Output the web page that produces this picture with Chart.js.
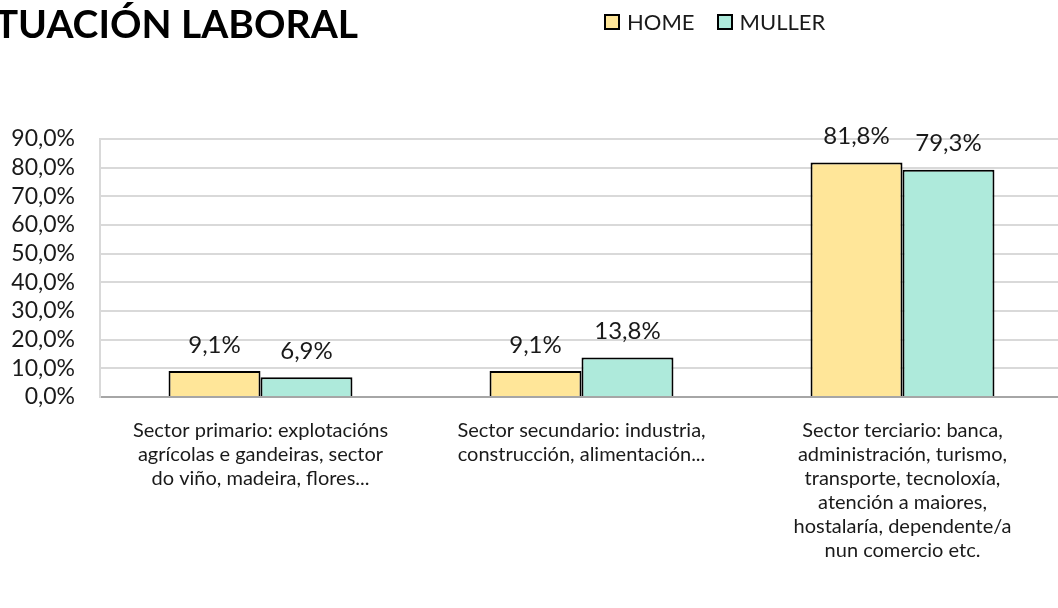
<!DOCTYPE html>
<html>
<head>
<meta charset="utf-8">
<script src="https://cdn.jsdelivr.net/npm/chart.js@4.4.1/dist/chart.umd.min.js"></script>
<style>
  html, body { margin: 0; padding: 0; background: #fff; overflow: hidden; }
  #wrap { position: relative; width: 1058px; height: 608px; overflow: hidden; }
  #title {
    position: absolute; right: 700px; top: 0px; white-space: nowrap;
    font: bold 39px Lato, sans-serif; color: #000;
  }
  #legend {
    position: absolute; left: 604px; top: 8px; display: flex; gap: 22px;
    font: 22px Lato, sans-serif; color: #1a1a1a;
  }
  #legend span { display: flex; align-items: center; }
  #legend i { display: inline-block; width: 12px; height: 12px; border: 2px solid #000; margin-right: 7px; }
  #box { position: absolute; left: 0; top: 0; width: 1100px; height: 608px; }
</style>
</head>
<body>
<div id="wrap">
  <div id="box"><canvas id="chartCanvas"></canvas></div>
  <div id="title">SITUACIÓN LABORAL</div>
  <div id="legend">
    <span><i style="background:#FFE699"></i>HOME</span>
    <span><i style="background:#AEEADB"></i>MULLER</span>
  </div>
</div>
<script>
// data
var categories = [
  ["Sector primario: explotacións", "agrícolas e gandeiras, sector", "do viño, madeira, flores..."],
  ["Sector secundario: industria,", "construcción, alimentación..."],
  ["Sector terciario: banca,", "administración, turismo,", "transporte, tecnoloxía,", "atención a maiores,", "hostalaría, dependente/a", "nun comercio etc."]
]
var home = [9.1, 9.1, 81.8]
var muller = [6.9, 13.8, 79.3]
var seriesNames = ["HOME", "MULLER"]
var yTicks = [0, 10, 20, 30, 40, 50, 60, 70, 80, 90]

var fmt = v => v.toFixed(1).replace('.', ',') + '%'

// writes the value above every bar
var valueLabels = {
  id: 'valueLabels',
  afterDatasetsDraw(chart) {
    var ctx = chart.ctx
    ctx.save()
    ctx.font = '24px Lato, sans-serif'
    ctx.fillStyle = '#1a1a1a'
    ctx.textAlign = 'center'
    ctx.textBaseline = 'middle'
    chart.data.datasets.forEach((ds, i) => {
      chart.getDatasetMeta(i).data.forEach((bar, j) => {
        ctx.fillText(fmt(ds.data[j]), bar.x, bar.y - 26)
      })
    })
    ctx.restore()
  }
}

var myChart = new Chart(document.getElementById('chartCanvas'), {
  type: 'bar',
  data: {
    labels: categories,
    datasets: [
      { label: seriesNames[0], data: home, backgroundColor: '#FFE699', borderColor: '#000', borderWidth: 2 },
      { label: seriesNames[1], data: muller, backgroundColor: '#AEEADB', borderColor: '#000', borderWidth: 2 }
    ]
  },
  options: {
    responsive: true,
    maintainAspectRatio: false,
    animation: false,
    categoryPercentage: 0.573,
    barPercentage: 1,
    layout: { padding: { top: 139, right: 37, bottom: 0, left: 0 } },
    plugins: { legend: { display: false }, tooltip: { enabled: false } },
    scales: {
      x: {
        grid: { display: false, drawTicks: false },
        border: { color: '#a6a6a6', width: 2 },
        ticks: { color: '#1a1a1a', font: { family: 'Lato', size: 20, lineHeight: 1.2 }, padding: 22, maxRotation: 0, autoSkip: false },
        afterFit: s => { s.height = 211 }
      },
      y: {
        min: 0, max: 90,
        afterBuildTicks: s => { s.ticks = yTicks.map(v => ({ value: v })) },
        grid: { color: '#d9d9d9', lineWidth: 2, drawTicks: false },
        border: { color: '#d9d9d9', width: 2 },
        ticks: { color: '#1a1a1a', font: { family: 'Lato', size: 23 }, padding: 25, autoSkip: false, callback: v => fmt(v) },
        afterFit: s => { s.width = 100 }
      }
    }
  },
  plugins: [valueLabels]
})
</script>
</body>
</html>
